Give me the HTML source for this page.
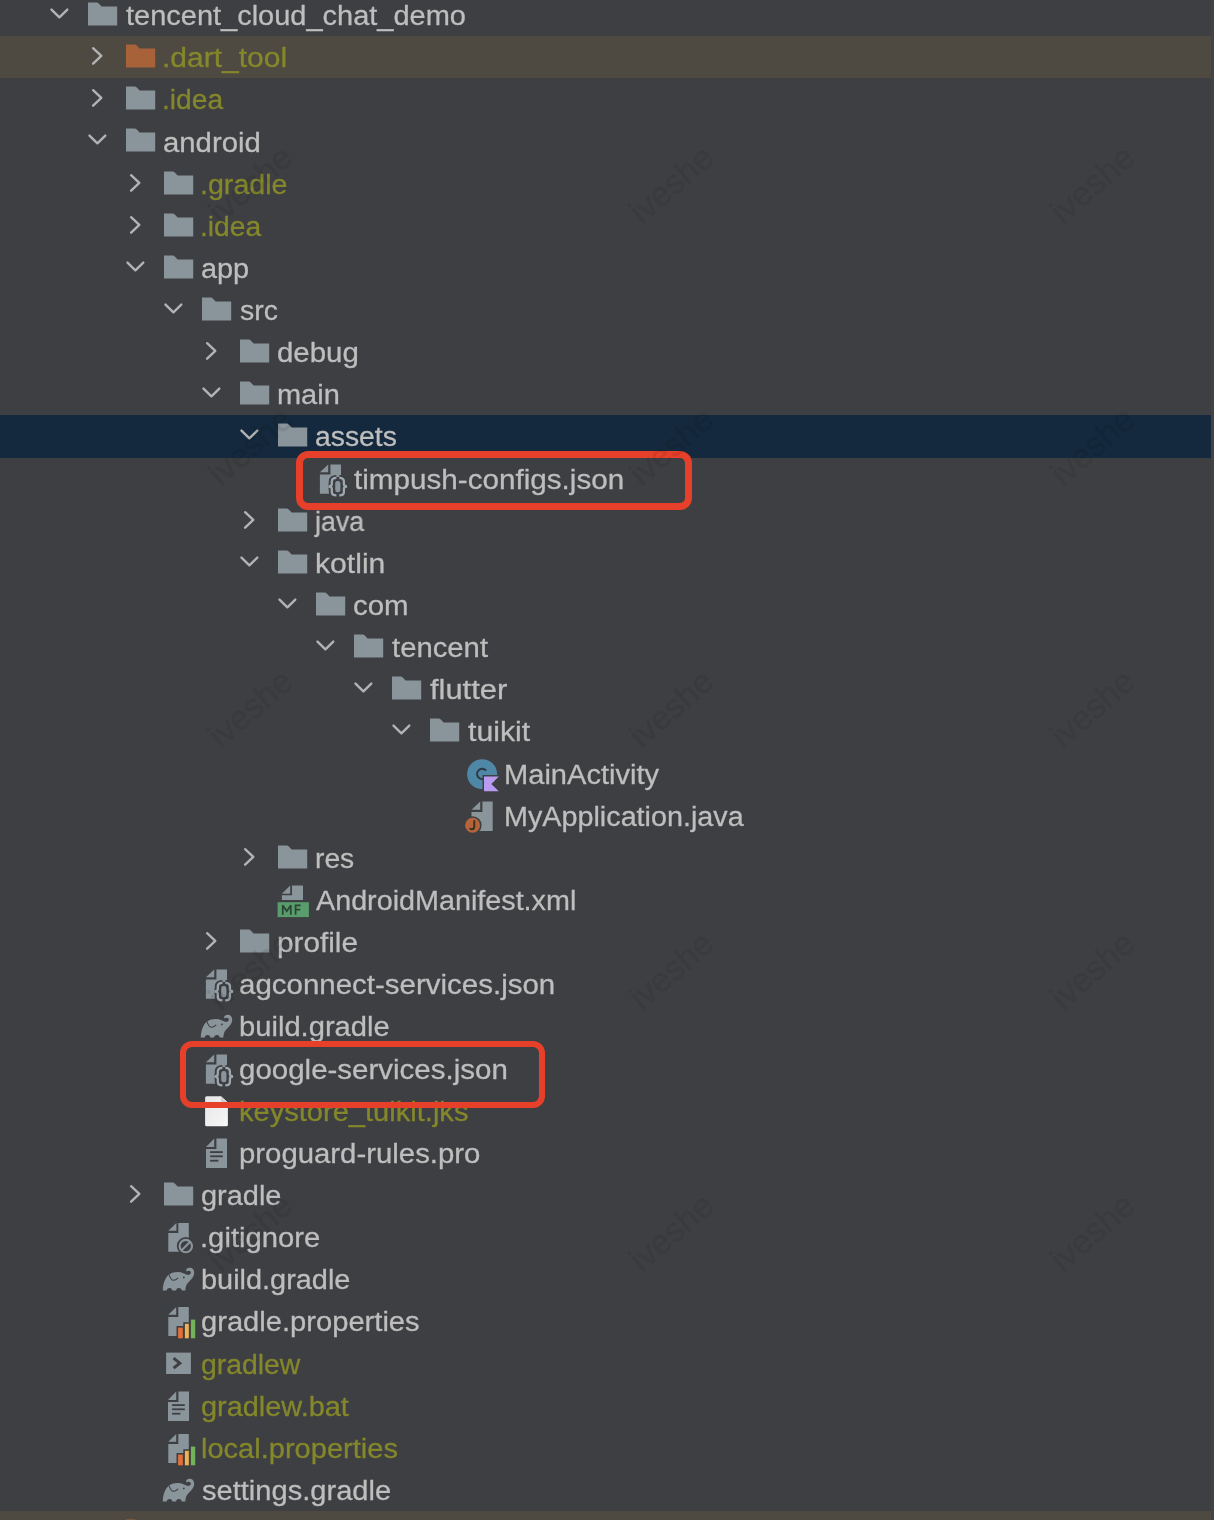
<!DOCTYPE html><html><head><meta charset="utf-8"><style>
html,body{margin:0;padding:0}body{width:1214px;height:1520px;overflow:hidden;position:relative;background:#3e3f42;font-family:"Liberation Sans",sans-serif}
.hl{position:absolute;left:0;width:1211px;height:42.14px}
.t{position:absolute;white-space:nowrap;font-size:28.2px;line-height:31.4994px;transform-origin:0 0;-webkit-text-stroke:0.3px currentColor;will-change:transform}
svg{position:absolute;overflow:visible}
.box{position:absolute;box-sizing:border-box;border:6.8px solid #e6402a;border-radius:12px}
.wm{position:absolute;width:120px;height:40px;line-height:40px;text-align:center;font-size:34px;color:rgba(0,0,0,0.08);-webkit-text-stroke:0.7px rgba(0,0,0,0.08);transform:rotate(-41deg)}
</style></head><body>
<div class="hl" style="top:36.14px;background:#4e4a42"></div>
<div class="hl" style="top:415.40px;background:#14293d"></div>
<div class="hl" style="top:1511.04px;background:#4e4a42"></div>
<svg style="left:0;top:-6.00px" width="1" height="1"><path d="M51.50 15.6 L59.40 23.3 L67.30 15.6" fill="none" stroke="#b1b3b5" stroke-width="2.4" stroke-linecap="round" stroke-linejoin="round"/></svg>
<svg style="left:88px;top:-6.00px" width="1" height="1"><path d="M0 8.5 H8.3 C9.4 8.5 10.1 8.9 10.8 9.6 L13.6 12.5 H29.2 V31.5 H0 Z" fill="#8a949b"/></svg>
<div class="t" style="left:126.20px;top:0.08px;color:#bebebe;transform:scaleX(1.0282)">tencent_cloud_chat_demo</div>
<svg style="left:0;top:36.14px" width="1" height="1"><path d="M93.10 12.2 L101.30 19.9 L93.10 27.7" fill="none" stroke="#b1b3b5" stroke-width="2.4" stroke-linecap="round" stroke-linejoin="round"/></svg>
<svg style="left:126px;top:36.14px" width="1" height="1"><path d="M0 8.5 H8.3 C9.4 8.5 10.1 8.9 10.8 9.6 L13.6 12.5 H29.2 V31.5 H0 Z" fill="#a8623a"/></svg>
<div class="t" style="left:162.07px;top:42.22px;color:#84872a;transform:scaleX(1.0642)">.dart_tool</div>
<svg style="left:0;top:78.28px" width="1" height="1"><path d="M93.10 12.2 L101.30 19.9 L93.10 27.7" fill="none" stroke="#b1b3b5" stroke-width="2.4" stroke-linecap="round" stroke-linejoin="round"/></svg>
<svg style="left:126px;top:78.28px" width="1" height="1"><path d="M0 8.5 H8.3 C9.4 8.5 10.1 8.9 10.8 9.6 L13.6 12.5 H29.2 V31.5 H0 Z" fill="#8a949b"/></svg>
<div class="t" style="left:162.22px;top:84.36px;color:#84872a;transform:scaleX(0.9925)">.idea</div>
<svg style="left:0;top:120.42px" width="1" height="1"><path d="M89.50 15.6 L97.40 23.3 L105.30 15.6" fill="none" stroke="#b1b3b5" stroke-width="2.4" stroke-linecap="round" stroke-linejoin="round"/></svg>
<svg style="left:126px;top:120.42px" width="1" height="1"><path d="M0 8.5 H8.3 C9.4 8.5 10.1 8.9 10.8 9.6 L13.6 12.5 H29.2 V31.5 H0 Z" fill="#8a949b"/></svg>
<div class="t" style="left:163.16px;top:126.50px;color:#bebebe;transform:scaleX(1.0399)">android</div>
<svg style="left:0;top:162.56px" width="1" height="1"><path d="M131.10 12.2 L139.30 19.9 L131.10 27.7" fill="none" stroke="#b1b3b5" stroke-width="2.4" stroke-linecap="round" stroke-linejoin="round"/></svg>
<svg style="left:164px;top:162.56px" width="1" height="1"><path d="M0 8.5 H8.3 C9.4 8.5 10.1 8.9 10.8 9.6 L13.6 12.5 H29.2 V31.5 H0 Z" fill="#8a949b"/></svg>
<div class="t" style="left:200.17px;top:168.64px;color:#84872a;transform:scaleX(1.0154)">.gradle</div>
<svg style="left:0;top:204.70px" width="1" height="1"><path d="M131.10 12.2 L139.30 19.9 L131.10 27.7" fill="none" stroke="#b1b3b5" stroke-width="2.4" stroke-linecap="round" stroke-linejoin="round"/></svg>
<svg style="left:164px;top:204.70px" width="1" height="1"><path d="M0 8.5 H8.3 C9.4 8.5 10.1 8.9 10.8 9.6 L13.6 12.5 H29.2 V31.5 H0 Z" fill="#8a949b"/></svg>
<div class="t" style="left:200.22px;top:210.78px;color:#84872a;transform:scaleX(0.9925)">.idea</div>
<svg style="left:0;top:246.84px" width="1" height="1"><path d="M127.50 15.6 L135.40 23.3 L143.30 15.6" fill="none" stroke="#b1b3b5" stroke-width="2.4" stroke-linecap="round" stroke-linejoin="round"/></svg>
<svg style="left:164px;top:246.84px" width="1" height="1"><path d="M0 8.5 H8.3 C9.4 8.5 10.1 8.9 10.8 9.6 L13.6 12.5 H29.2 V31.5 H0 Z" fill="#8a949b"/></svg>
<div class="t" style="left:201.18px;top:252.92px;color:#bebebe;transform:scaleX(1.0231)">app</div>
<svg style="left:0;top:288.98px" width="1" height="1"><path d="M165.50 15.6 L173.40 23.3 L181.30 15.6" fill="none" stroke="#b1b3b5" stroke-width="2.4" stroke-linecap="round" stroke-linejoin="round"/></svg>
<svg style="left:202px;top:288.98px" width="1" height="1"><path d="M0 8.5 H8.3 C9.4 8.5 10.1 8.9 10.8 9.6 L13.6 12.5 H29.2 V31.5 H0 Z" fill="#8a949b"/></svg>
<div class="t" style="left:240.20px;top:295.06px;color:#bebebe;transform:scaleX(1.0085)">src</div>
<svg style="left:0;top:331.12px" width="1" height="1"><path d="M207.10 12.2 L215.30 19.9 L207.10 27.7" fill="none" stroke="#b1b3b5" stroke-width="2.4" stroke-linecap="round" stroke-linejoin="round"/></svg>
<svg style="left:240px;top:331.12px" width="1" height="1"><path d="M0 8.5 H8.3 C9.4 8.5 10.1 8.9 10.8 9.6 L13.6 12.5 H29.2 V31.5 H0 Z" fill="#8a949b"/></svg>
<div class="t" style="left:277.16px;top:337.20px;color:#bebebe;transform:scaleX(1.0435)">debug</div>
<svg style="left:0;top:373.26px" width="1" height="1"><path d="M203.50 15.6 L211.40 23.3 L219.30 15.6" fill="none" stroke="#b1b3b5" stroke-width="2.4" stroke-linecap="round" stroke-linejoin="round"/></svg>
<svg style="left:240px;top:373.26px" width="1" height="1"><path d="M0 8.5 H8.3 C9.4 8.5 10.1 8.9 10.8 9.6 L13.6 12.5 H29.2 V31.5 H0 Z" fill="#8a949b"/></svg>
<div class="t" style="left:277.17px;top:379.34px;color:#bebebe;transform:scaleX(1.0271)">main</div>
<svg style="left:0;top:415.40px" width="1" height="1"><path d="M241.50 15.6 L249.40 23.3 L257.30 15.6" fill="none" stroke="#b1b3b5" stroke-width="2.4" stroke-linecap="round" stroke-linejoin="round"/></svg>
<svg style="left:278px;top:415.40px" width="1" height="1"><path d="M0 8.5 H8.3 C9.4 8.5 10.1 8.9 10.8 9.6 L13.6 12.5 H29.2 V31.5 H0 Z" fill="#8a949b"/></svg>
<div class="t" style="left:315.19px;top:421.48px;color:#bebebe;transform:scaleX(1.0053)">assets</div>
<svg style="left:316px;top:457.54px" width="1" height="1"><path d="M3.9 14.3 L12.2 6.4 V14.3 Z M14.399999999999999 6.4 H25 V35.8 H3.9 V16.6 H14.399999999999999 Z" fill="#8a949b"/><path d="M16 19 H28 V38.5 H16 Z" fill="#3e3f42"/><path d="M20.4 19.9 C17 19.9 15.8 21 15.8 23.5 V26 C15.8 27.6 14.6 28.5 12.5 28.5 C14.6 28.5 15.8 29.4 15.8 31 V34 C15.8 36.4 17 37.4 20.4 37.4" fill="none" stroke="#3e3f42" stroke-width="6"/><path d="M23.3 19.9 C26.7 19.9 27.9 21 27.9 23.5 V26 C27.9 27.6 29.1 28.5 31.1 28.5 C29.1 28.5 27.9 29.4 27.9 31 V34 C27.9 36.4 26.7 37.4 23.3 37.4" fill="none" stroke="#3e3f42" stroke-width="6"/><path d="M20.4 19.9 C17 19.9 15.8 21 15.8 23.5 V26 C15.8 27.6 14.6 28.5 12.5 28.5 C14.6 28.5 15.8 29.4 15.8 31 V34 C15.8 36.4 17 37.4 20.4 37.4" fill="none" stroke="#9ca7af" stroke-width="2.3"/><path d="M23.3 19.9 C26.7 19.9 27.9 21 27.9 23.5 V26 C27.9 27.6 29.1 28.5 31.1 28.5 C29.1 28.5 27.9 29.4 27.9 31 V34 C27.9 36.4 26.7 37.4 23.3 37.4" fill="none" stroke="#9ca7af" stroke-width="2.3"/><rect x="19.2" y="23" width="5.2" height="11.3" rx="2.4" fill="#8a949b"/></svg>
<div class="t" style="left:354.20px;top:463.62px;color:#bebebe;transform:scaleX(1.0515)">timpush-configs.json</div>
<svg style="left:0;top:499.68px" width="1" height="1"><path d="M245.10 12.2 L253.30 19.9 L245.10 27.7" fill="none" stroke="#b1b3b5" stroke-width="2.4" stroke-linecap="round" stroke-linejoin="round"/></svg>
<svg style="left:278px;top:499.68px" width="1" height="1"><path d="M0 8.5 H8.3 C9.4 8.5 10.1 8.9 10.8 9.6 L13.6 12.5 H29.2 V31.5 H0 Z" fill="#8a949b"/></svg>
<div class="t" style="left:315.45px;top:505.76px;color:#bebebe;transform:scaleX(0.9504)">java</div>
<svg style="left:0;top:541.82px" width="1" height="1"><path d="M241.50 15.6 L249.40 23.3 L257.30 15.6" fill="none" stroke="#b1b3b5" stroke-width="2.4" stroke-linecap="round" stroke-linejoin="round"/></svg>
<svg style="left:278px;top:541.82px" width="1" height="1"><path d="M0 8.5 H8.3 C9.4 8.5 10.1 8.9 10.8 9.6 L13.6 12.5 H29.2 V31.5 H0 Z" fill="#8a949b"/></svg>
<div class="t" style="left:315.13px;top:547.90px;color:#bebebe;transform:scaleX(1.0693)">kotlin</div>
<svg style="left:0;top:583.96px" width="1" height="1"><path d="M279.50 15.6 L287.40 23.3 L295.30 15.6" fill="none" stroke="#b1b3b5" stroke-width="2.4" stroke-linecap="round" stroke-linejoin="round"/></svg>
<svg style="left:316px;top:583.96px" width="1" height="1"><path d="M0 8.5 H8.3 C9.4 8.5 10.1 8.9 10.8 9.6 L13.6 12.5 H29.2 V31.5 H0 Z" fill="#8a949b"/></svg>
<div class="t" style="left:353.16px;top:590.04px;color:#bebebe;transform:scaleX(1.0439)">com</div>
<svg style="left:0;top:626.10px" width="1" height="1"><path d="M317.50 15.6 L325.40 23.3 L333.30 15.6" fill="none" stroke="#b1b3b5" stroke-width="2.4" stroke-linecap="round" stroke-linejoin="round"/></svg>
<svg style="left:354px;top:626.10px" width="1" height="1"><path d="M0 8.5 H8.3 C9.4 8.5 10.1 8.9 10.8 9.6 L13.6 12.5 H29.2 V31.5 H0 Z" fill="#8a949b"/></svg>
<div class="t" style="left:392.20px;top:632.18px;color:#bebebe;transform:scaleX(1.0385)">tencent</div>
<svg style="left:0;top:668.24px" width="1" height="1"><path d="M355.50 15.6 L363.40 23.3 L371.30 15.6" fill="none" stroke="#b1b3b5" stroke-width="2.4" stroke-linecap="round" stroke-linejoin="round"/></svg>
<svg style="left:392px;top:668.24px" width="1" height="1"><path d="M0 8.5 H8.3 C9.4 8.5 10.1 8.9 10.8 9.6 L13.6 12.5 H29.2 V31.5 H0 Z" fill="#8a949b"/></svg>
<div class="t" style="left:430.20px;top:674.32px;color:#bebebe;transform:scaleX(1.0954)">flutter</div>
<svg style="left:0;top:710.38px" width="1" height="1"><path d="M393.50 15.6 L401.40 23.3 L409.30 15.6" fill="none" stroke="#b1b3b5" stroke-width="2.4" stroke-linecap="round" stroke-linejoin="round"/></svg>
<svg style="left:430px;top:710.38px" width="1" height="1"><path d="M0 8.5 H8.3 C9.4 8.5 10.1 8.9 10.8 9.6 L13.6 12.5 H29.2 V31.5 H0 Z" fill="#8a949b"/></svg>
<div class="t" style="left:468.20px;top:716.46px;color:#bebebe;transform:scaleX(1.0718)">tuikit</div>
<svg style="left:468px;top:752.52px" width="1" height="1"><circle cx="14.1" cy="21.2" r="15" fill="#4f88a6"/><path d="M18.1 17.6 A5.1 5.1 0 1 0 17.3 25" fill="none" stroke="#2d3b44" stroke-width="2.1"/><path d="M16 23.5 H30.8 L23.3 30.9 L30.8 38.3 H16 Z" fill="#3e3f42" stroke="#3e3f42" stroke-width="3" stroke-linejoin="miter"/><path d="M16 23.5 H30.8 L23.3 30.9 L30.8 38.3 H16 Z" fill="#b99cf1"/></svg>
<div class="t" style="left:504.14px;top:758.60px;color:#bebebe;transform:scaleX(1.0317)">MainActivity</div>
<svg style="left:468px;top:794.66px" width="1" height="1"><path d="M3.5 14.8 L12.2 6.5 V14.8 Z M14.399999999999999 6.5 H24.7 V36 H3.5 V17 H14.399999999999999 Z" fill="#8a949b"/><circle cx="4.6" cy="30.2" r="9" fill="#3e3f42"/><circle cx="4.6" cy="30.2" r="7.5" fill="#b5643a"/><path d="M6.3 25.3 V31.6 C6.3 33.6 5.2 34.3 3.9 34.3 C2.8 34.3 2.1 33.8 1.8 33.2" fill="none" stroke="#3b2e26" stroke-width="1.9"/></svg>
<div class="t" style="left:504.16px;top:800.74px;color:#bebebe;transform:scaleX(1.0200)">MyApplication.java</div>
<svg style="left:0;top:836.80px" width="1" height="1"><path d="M245.10 12.2 L253.30 19.9 L245.10 27.7" fill="none" stroke="#b1b3b5" stroke-width="2.4" stroke-linecap="round" stroke-linejoin="round"/></svg>
<svg style="left:278px;top:836.80px" width="1" height="1"><path d="M0 8.5 H8.3 C9.4 8.5 10.1 8.9 10.8 9.6 L13.6 12.5 H29.2 V31.5 H0 Z" fill="#8a949b"/></svg>
<div class="t" style="left:315.20px;top:842.88px;color:#bebebe;transform:scaleX(0.9983)">res</div>
<svg style="left:278px;top:878.94px" width="1" height="1"><path d="M3.9 14.8 L12.2 6.4 V14.8 Z M14 6.4 H25 V21 H3.9 V16.3 H14 Z" fill="#8a949b"/><rect x="-0.4" y="23.2" width="31.3" height="14.9" fill="#589d6b"/><path d="M4.75 35.8 V26.2 L8.8 32.2 L12.8 26.2 V35.8" fill="none" stroke="#2c4433" stroke-width="1.75" stroke-linejoin="miter" stroke-miterlimit="2"/><path d="M17.55 35.8 V26.35 H22.7 M17.55 30.7 H22.2" fill="none" stroke="#2c4433" stroke-width="1.75"/></svg>
<div class="t" style="left:316.20px;top:885.02px;color:#bebebe;transform:scaleX(1.0193)">AndroidManifest.xml</div>
<svg style="left:0;top:921.08px" width="1" height="1"><path d="M207.10 12.2 L215.30 19.9 L207.10 27.7" fill="none" stroke="#b1b3b5" stroke-width="2.4" stroke-linecap="round" stroke-linejoin="round"/></svg>
<svg style="left:240px;top:921.08px" width="1" height="1"><path d="M0 8.5 H8.3 C9.4 8.5 10.1 8.9 10.8 9.6 L13.6 12.5 H29.2 V31.5 H0 Z" fill="#8a949b"/></svg>
<div class="t" style="left:277.15px;top:927.16px;color:#bebebe;transform:scaleX(1.0547)">profile</div>
<svg style="left:202px;top:963.22px" width="1" height="1"><path d="M3.9 14.3 L12.2 6.4 V14.3 Z M14.399999999999999 6.4 H25 V35.8 H3.9 V16.6 H14.399999999999999 Z" fill="#8a949b"/><path d="M16 19 H28 V38.5 H16 Z" fill="#3e3f42"/><path d="M20.4 19.9 C17 19.9 15.8 21 15.8 23.5 V26 C15.8 27.6 14.6 28.5 12.5 28.5 C14.6 28.5 15.8 29.4 15.8 31 V34 C15.8 36.4 17 37.4 20.4 37.4" fill="none" stroke="#3e3f42" stroke-width="6"/><path d="M23.3 19.9 C26.7 19.9 27.9 21 27.9 23.5 V26 C27.9 27.6 29.1 28.5 31.1 28.5 C29.1 28.5 27.9 29.4 27.9 31 V34 C27.9 36.4 26.7 37.4 23.3 37.4" fill="none" stroke="#3e3f42" stroke-width="6"/><path d="M20.4 19.9 C17 19.9 15.8 21 15.8 23.5 V26 C15.8 27.6 14.6 28.5 12.5 28.5 C14.6 28.5 15.8 29.4 15.8 31 V34 C15.8 36.4 17 37.4 20.4 37.4" fill="none" stroke="#9ca7af" stroke-width="2.3"/><path d="M23.3 19.9 C26.7 19.9 27.9 21 27.9 23.5 V26 C27.9 27.6 29.1 28.5 31.1 28.5 C29.1 28.5 27.9 29.4 27.9 31 V34 C27.9 36.4 26.7 37.4 23.3 37.4" fill="none" stroke="#9ca7af" stroke-width="2.3"/><rect x="19.2" y="23" width="5.2" height="11.3" rx="2.4" fill="#8a949b"/></svg>
<div class="t" style="left:239.15px;top:969.30px;color:#bebebe;transform:scaleX(1.0457)">agconnect-services.json</div>
<svg style="left:202px;top:1005.36px" width="1" height="1"><path d="M-1.2 32.6 C-1.2 24.5 2 18.5 5.5 16.3 C9 14 15 13.2 20 15.4 L21.8 16.2 C23.5 13.8 22 12 21.8 12.2 C22.8 10 25 9.3 26.8 9.8 C29.6 10.6 30.6 13.5 30 16.5 C29.4 19.6 26.2 22.5 23.8 25 C22.2 26.8 21.4 29.5 21.4 32.6 Z" fill="#8a949b"/><path d="M22.2 13.5 C23.5 12.4 25.6 12.5 26.5 13.6 C27.2 14.5 26.8 15.8 25.8 16.4 C24.6 17.1 23 16.8 22 16.4 Z" fill="#3e3f42"/><circle cx="5.5" cy="32.7" r="2.75" fill="#3e3f42"/><circle cx="14.9" cy="32.7" r="2.75" fill="#3e3f42"/><path d="M5 16.6 C6 19.5 7.5 22.4 9.5 22.3 C11 22.2 12.8 21 14.2 19.8" fill="none" stroke="#3e3f42" stroke-width="1.1"/><circle cx="19.8" cy="19.4" r="0.9" fill="#3e3f42"/></svg>
<div class="t" style="left:239.17px;top:1011.44px;color:#bebebe;transform:scaleX(1.0343)">build.gradle</div>
<svg style="left:202px;top:1047.50px" width="1" height="1"><path d="M3.9 14.3 L12.2 6.4 V14.3 Z M14.399999999999999 6.4 H25 V35.8 H3.9 V16.6 H14.399999999999999 Z" fill="#8a949b"/><path d="M16 19 H28 V38.5 H16 Z" fill="#3e3f42"/><path d="M20.4 19.9 C17 19.9 15.8 21 15.8 23.5 V26 C15.8 27.6 14.6 28.5 12.5 28.5 C14.6 28.5 15.8 29.4 15.8 31 V34 C15.8 36.4 17 37.4 20.4 37.4" fill="none" stroke="#3e3f42" stroke-width="6"/><path d="M23.3 19.9 C26.7 19.9 27.9 21 27.9 23.5 V26 C27.9 27.6 29.1 28.5 31.1 28.5 C29.1 28.5 27.9 29.4 27.9 31 V34 C27.9 36.4 26.7 37.4 23.3 37.4" fill="none" stroke="#3e3f42" stroke-width="6"/><path d="M20.4 19.9 C17 19.9 15.8 21 15.8 23.5 V26 C15.8 27.6 14.6 28.5 12.5 28.5 C14.6 28.5 15.8 29.4 15.8 31 V34 C15.8 36.4 17 37.4 20.4 37.4" fill="none" stroke="#9ca7af" stroke-width="2.3"/><path d="M23.3 19.9 C26.7 19.9 27.9 21 27.9 23.5 V26 C27.9 27.6 29.1 28.5 31.1 28.5 C29.1 28.5 27.9 29.4 27.9 31 V34 C27.9 36.4 26.7 37.4 23.3 37.4" fill="none" stroke="#9ca7af" stroke-width="2.3"/><rect x="19.2" y="23" width="5.2" height="11.3" rx="2.4" fill="#8a949b"/></svg>
<div class="t" style="left:239.15px;top:1053.58px;color:#bebebe;transform:scaleX(1.0461)">google-services.json</div>
<svg style="left:202px;top:1089.64px" width="1" height="1"><defs><linearGradient id="wg" x1="0" y1="0" x2="1" y2="1"><stop offset="0" stop-color="#e6e6e6"/><stop offset="1" stop-color="#f7f7f7"/></linearGradient></defs><path d="M4.6 6.3 H19 L25.9 12.5 V34.7 Q25.9 36.2 24.4 36.2 H4.6 Q3.1 36.2 3.1 34.7 V7.8 Q3.1 6.3 4.6 6.3 Z" fill="url(#wg)"/><path d="M19 6.3 L25.9 12.5 H19 Z" fill="#d0d0d0"/></svg>
<div class="t" style="left:239.17px;top:1095.72px;color:#84872a;transform:scaleX(1.0314)">keystore_tuikit.jks</div>
<svg style="left:202px;top:1131.78px" width="1" height="1"><path d="M4 15 L12.2 6.5 V15 Z M14.399999999999999 6.5 H25 V36 H4 V17 H14.399999999999999 Z" fill="#8a949b"/><rect x="8.1" y="19.2" width="12.7" height="1.8" fill="#3e3f42"/><rect x="8.1" y="23.4" width="12.7" height="1.8" fill="#3e3f42"/><rect x="8.1" y="27.8" width="8.3" height="1.8" fill="#3e3f42"/></svg>
<div class="t" style="left:239.16px;top:1137.86px;color:#bebebe;transform:scaleX(1.0408)">proguard-rules.pro</div>
<svg style="left:0;top:1173.92px" width="1" height="1"><path d="M131.10 12.2 L139.30 19.9 L131.10 27.7" fill="none" stroke="#b1b3b5" stroke-width="2.4" stroke-linecap="round" stroke-linejoin="round"/></svg>
<svg style="left:164px;top:1173.92px" width="1" height="1"><path d="M0 8.5 H8.3 C9.4 8.5 10.1 8.9 10.8 9.6 L13.6 12.5 H29.2 V31.5 H0 Z" fill="#8a949b"/></svg>
<div class="t" style="left:201.17px;top:1180.00px;color:#bebebe;transform:scaleX(1.0264)">gradle</div>
<svg style="left:164px;top:1216.06px" width="1" height="1"><path d="M4.3 14.7 L12.4 7 V14.7 Z M14.299999999999999 7 H24.8 V35.8 H4.3 V17 H14.299999999999999 Z" fill="#8a949b"/><circle cx="21.8" cy="30.1" r="9" fill="#3e3f42"/><circle cx="21.8" cy="30.1" r="6.2" fill="none" stroke="#8a949b" stroke-width="2.1"/><path d="M26.2 25.7 L17.4 34.5" stroke="#8a949b" stroke-width="2.1"/></svg>
<div class="t" style="left:200.13px;top:1222.14px;color:#bebebe;transform:scaleX(1.0372)">.gitignore</div>
<svg style="left:164px;top:1258.20px" width="1" height="1"><path d="M-1.2 32.6 C-1.2 24.5 2 18.5 5.5 16.3 C9 14 15 13.2 20 15.4 L21.8 16.2 C23.5 13.8 22 12 21.8 12.2 C22.8 10 25 9.3 26.8 9.8 C29.6 10.6 30.6 13.5 30 16.5 C29.4 19.6 26.2 22.5 23.8 25 C22.2 26.8 21.4 29.5 21.4 32.6 Z" fill="#8a949b"/><path d="M22.2 13.5 C23.5 12.4 25.6 12.5 26.5 13.6 C27.2 14.5 26.8 15.8 25.8 16.4 C24.6 17.1 23 16.8 22 16.4 Z" fill="#3e3f42"/><circle cx="5.5" cy="32.7" r="2.75" fill="#3e3f42"/><circle cx="14.9" cy="32.7" r="2.75" fill="#3e3f42"/><path d="M5 16.6 C6 19.5 7.5 22.4 9.5 22.3 C11 22.2 12.8 21 14.2 19.8" fill="none" stroke="#3e3f42" stroke-width="1.1"/><circle cx="19.8" cy="19.4" r="0.9" fill="#3e3f42"/></svg>
<div class="t" style="left:201.17px;top:1264.28px;color:#bebebe;transform:scaleX(1.0252)">build.gradle</div>
<svg style="left:164px;top:1300.34px" width="1" height="1"><path d="M4.3 14.8 L12.2 7 V14.8 Z M14.299999999999999 7 H24.8 V36.1 H4.3 V16.9 H14.299999999999999 Z" fill="#8a949b"/><path d="M12.5 26 H19.3 V22.2 H25.3 V18 H32.8 V40 H12.5 Z" fill="#3e3f42"/><rect x="14.1" y="27.6" width="4.7" height="10.7" fill="#e2703a"/><rect x="20.9" y="23.8" width="3.9" height="14.5" fill="#eeb352"/><rect x="26.9" y="19.6" width="4.3" height="18.7" fill="#72b35a"/></svg>
<div class="t" style="left:201.17px;top:1306.42px;color:#bebebe;transform:scaleX(1.0336)">gradle.properties</div>
<svg style="left:164px;top:1342.48px" width="1" height="1"><rect x="2.1" y="10.6" width="24.8" height="21.4" fill="#8a949b"/><path d="M9.6 16.2 L15.8 21.2 L9.6 26.2" fill="none" stroke="#3e3f42" stroke-width="3"/></svg>
<div class="t" style="left:201.19px;top:1348.56px;color:#84872a;transform:scaleX(1.0066)">gradlew</div>
<svg style="left:164px;top:1384.62px" width="1" height="1"><path d="M4 15 L12.2 6.5 V15 Z M14.399999999999999 6.5 H25 V36 H4 V17 H14.399999999999999 Z" fill="#8a949b"/><rect x="8.1" y="19.2" width="12.7" height="1.8" fill="#3e3f42"/><rect x="8.1" y="23.4" width="12.7" height="1.8" fill="#3e3f42"/><rect x="8.1" y="27.8" width="8.3" height="1.8" fill="#3e3f42"/></svg>
<div class="t" style="left:201.17px;top:1390.70px;color:#84872a;transform:scaleX(1.0255)">gradlew.bat</div>
<svg style="left:164px;top:1426.76px" width="1" height="1"><path d="M4.3 14.8 L12.2 7 V14.8 Z M14.299999999999999 7 H24.8 V36.1 H4.3 V16.9 H14.299999999999999 Z" fill="#8a949b"/><path d="M12.5 26 H19.3 V22.2 H25.3 V18 H32.8 V40 H12.5 Z" fill="#3e3f42"/><rect x="14.1" y="27.6" width="4.7" height="10.7" fill="#e2703a"/><rect x="20.9" y="23.8" width="3.9" height="14.5" fill="#eeb352"/><rect x="26.9" y="19.6" width="4.3" height="18.7" fill="#72b35a"/></svg>
<div class="t" style="left:201.17px;top:1432.84px;color:#84872a;transform:scaleX(1.0302)">local.properties</div>
<svg style="left:164px;top:1468.90px" width="1" height="1"><path d="M-1.2 32.6 C-1.2 24.5 2 18.5 5.5 16.3 C9 14 15 13.2 20 15.4 L21.8 16.2 C23.5 13.8 22 12 21.8 12.2 C22.8 10 25 9.3 26.8 9.8 C29.6 10.6 30.6 13.5 30 16.5 C29.4 19.6 26.2 22.5 23.8 25 C22.2 26.8 21.4 29.5 21.4 32.6 Z" fill="#8a949b"/><path d="M22.2 13.5 C23.5 12.4 25.6 12.5 26.5 13.6 C27.2 14.5 26.8 15.8 25.8 16.4 C24.6 17.1 23 16.8 22 16.4 Z" fill="#3e3f42"/><circle cx="5.5" cy="32.7" r="2.75" fill="#3e3f42"/><circle cx="14.9" cy="32.7" r="2.75" fill="#3e3f42"/><path d="M5 16.6 C6 19.5 7.5 22.4 9.5 22.3 C11 22.2 12.8 21 14.2 19.8" fill="none" stroke="#3e3f42" stroke-width="1.1"/><circle cx="19.8" cy="19.4" r="0.9" fill="#3e3f42"/></svg>
<div class="t" style="left:202.20px;top:1474.98px;color:#bebebe;transform:scaleX(1.0315)">settings.gradle</div>
<svg style="left:0;top:1511.04px" width="1" height="1"><path d="M93.10 12.2 L101.30 19.9 L93.10 27.7" fill="none" stroke="#b1b3b5" stroke-width="2.4" stroke-linecap="round" stroke-linejoin="round"/></svg>
<svg style="left:126px;top:1511.04px" width="1" height="1"><path d="M0 8.5 H8.3 C9.4 8.5 10.1 8.9 10.8 9.6 L13.6 12.5 H29.2 V31.5 H0 Z" fill="#a8623a"/></svg>
<div class="box" style="left:295.5px;top:451.2px;width:396.2px;height:58.8px;border-width:7.1px"></div>
<div class="box" style="left:179.9px;top:1040.9px;width:365.1px;height:66.9px;border-width:6.4px"></div>
<div style="position:absolute;left:1211px;top:0;width:3px;height:1520px;background:#424345"></div>
<div class="wm" style="left:190px;top:164px">iveshe</div>
<div class="wm" style="left:190px;top:426px">iveshe</div>
<div class="wm" style="left:190px;top:688px">iveshe</div>
<div class="wm" style="left:190px;top:950px">iveshe</div>
<div class="wm" style="left:190px;top:1212px">iveshe</div>
<div class="wm" style="left:611px;top:164px">iveshe</div>
<div class="wm" style="left:611px;top:426px">iveshe</div>
<div class="wm" style="left:611px;top:688px">iveshe</div>
<div class="wm" style="left:611px;top:950px">iveshe</div>
<div class="wm" style="left:611px;top:1212px">iveshe</div>
<div class="wm" style="left:1032px;top:164px">iveshe</div>
<div class="wm" style="left:1032px;top:426px">iveshe</div>
<div class="wm" style="left:1032px;top:688px">iveshe</div>
<div class="wm" style="left:1032px;top:950px">iveshe</div>
<div class="wm" style="left:1032px;top:1212px">iveshe</div>
</body></html>
